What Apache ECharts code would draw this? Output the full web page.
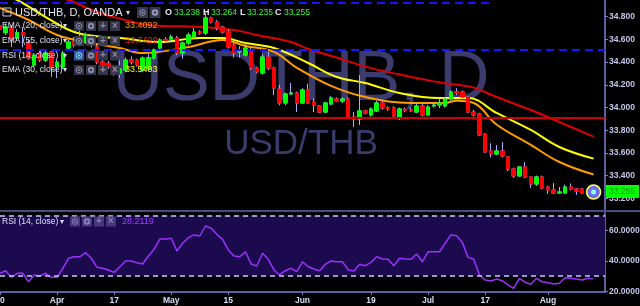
<!DOCTYPE html>
<html><head><meta charset="utf-8">
<script src="https://cdn.jsdelivr.net/npm/echarts@6/dist/echarts.min.js"></script>
<style>html,body{margin:0;padding:0;background:#000;}#c{width:640px;height:306px;}</style>
</head><body><div id="c"></div>
<script>
// ---- DATA ----
const categories = [
'03-20','03-21','03-22','03-23','03-24','03-27','03-28','03-29','03-30','03-31',
'04-03','04-04','04-05','04-06','04-07','04-10','04-11','04-12','04-13','04-14',
'04-17','04-18','04-19','04-20','04-21','04-24','04-25','04-26','04-27','04-28',
'05-01','05-02','05-03','05-04','05-05','05-08','05-09','05-10','05-11','05-12',
'05-15','05-16','05-17','05-18','05-19','05-22','05-23','05-24','05-25','05-26',
'05-29','05-30','05-31',
'06-01','06-02','06-05','06-06','06-07','06-08','06-09','06-12','06-13','06-14',
'06-15','06-16','06-19','06-20','06-21','06-22','06-23','06-26','06-27','06-28',
'06-29','06-30',
'07-03','07-04','07-05','07-06','07-07','07-10','07-11','07-12','07-13','07-14',
'07-17','07-18','07-19','07-20','07-21','07-24','07-25','07-26','07-27','07-28','07-31',
'08-01','08-02','08-03','08-04','08-07','08-08','08-09','08-10','08-11'];
const opens = [
34.72,34.66,34.70,34.61,34.66,34.568,34.374,34.48,34.418,34.489,
34.36,34.357,34.524,34.58,34.55,34.577,34.621,34.533,34.40,34.39,
34.357,34.30,34.33,34.42,34.418,34.33,34.34,34.436,34.524,34.60,
34.603,34.612,34.48,34.568,34.621,34.665,34.656,34.789,34.753,34.709,
34.674,34.551,34.49,34.462,34.507,34.348,34.304,34.445,34.348,34.163,
34.04,34.119,34.128,34.04,34.154,34.048,34.013,33.96,34.031,34.075,
34.057,34.075,33.917,33.899,33.97,33.934,33.97,34.04,33.996,33.996,
33.917,33.985,33.98,33.96,34.013,33.934,34.013,34.022,34.013,34.075,
34.137,34.137,34.092,33.96,33.943,33.767,33.617,33.59,33.617,33.564,
33.458,33.397,33.476,33.388,33.326,33.388,33.30,33.273,33.247,33.247,
33.30,33.282,33.282,33.247,33.238];
const closes = [
34.69,34.71,34.612,34.66,34.64,34.436,34.462,34.418,34.48,34.357,
34.40,34.48,34.577,34.55,34.60,34.639,34.551,34.40,34.374,34.357,
34.304,34.34,34.418,34.40,34.374,34.436,34.44,34.507,34.595,34.59,
34.621,34.48,34.568,34.639,34.665,34.656,34.789,34.753,34.70,34.665,
34.533,34.48,34.507,34.524,34.348,34.313,34.445,34.348,34.172,34.04,
34.119,34.128,34.04,34.154,34.04,34.022,33.96,34.04,34.084,34.057,
34.075,33.917,33.899,33.97,33.952,33.987,34.04,33.996,33.987,33.925,
33.987,33.975,33.97,34.013,33.934,34.004,34.022,34.04,34.075,34.137,
34.128,34.092,33.96,33.934,33.758,33.608,33.59,33.617,33.573,33.458,
33.397,33.476,33.388,33.326,33.388,33.291,33.273,33.247,33.256,33.30,
33.282,33.264,33.247,33.238,33.255];
const highs = [
34.75,34.74,34.727,34.69,34.71,34.60,34.48,34.50,34.50,34.50,
34.42,34.50,34.60,34.62,34.70,34.66,34.64,34.55,34.42,34.41,
34.37,34.445,34.44,34.45,34.43,34.45,34.47,34.52,34.61,34.62,
34.64,34.63,34.58,34.66,34.70,34.68,34.83,34.80,34.77,34.72,
34.69,34.57,34.54,34.57,34.53,34.36,34.47,34.49,34.36,34.20,
34.13,34.216,34.14,34.17,34.21,34.08,34.02,34.05,34.10,34.09,
34.09,34.09,33.96,34.286,33.98,34.00,34.06,34.06,34.01,34.01,
34.00,34.00,34.00,34.03,34.03,34.02,34.04,34.08,34.09,34.15,
34.17,34.15,34.10,33.98,33.95,33.77,33.685,33.67,33.695,33.57,
33.47,33.48,33.52,33.39,33.40,33.40,33.31,33.335,33.30,33.32,
33.33,33.29,33.29,33.26,33.264];
const lows = [
34.67,34.64,34.533,34.59,34.53,34.42,34.36,34.40,34.40,34.27,
34.26,34.34,34.50,34.53,34.54,34.56,34.53,34.38,34.35,34.34,
34.28,34.26,34.31,34.38,34.36,34.31,34.32,34.42,34.51,34.57,
34.58,34.46,34.43,34.55,34.61,34.64,34.64,34.74,34.68,34.65,
34.52,34.44,34.44,34.45,34.33,34.30,34.29,34.33,34.11,34.02,
34.02,34.11,33.96,34.03,34.03,33.96,33.95,33.95,34.02,34.05,
34.04,33.91,33.83,33.845,33.94,33.92,33.96,33.98,33.97,33.91,
33.89,33.96,33.96,33.95,33.92,33.93,34.00,33.995,34.00,34.06,
34.11,34.08,33.95,33.92,33.75,33.60,33.56,33.58,33.56,33.44,
33.38,33.39,33.38,33.29,33.31,33.28,33.238,33.24,33.24,33.24,
33.27,33.23,33.24,33.22,33.235];
const ema55 = [[8,35.0],[12,34.947],[17,34.841],[22,34.771],[26,34.727],[35,34.709],[41,34.683],[45,34.639],[51,34.577],[54,34.515],[59,34.44],[64,34.36],[70,34.29],[76,34.23],[80,34.20],[83,34.175],[87,34.092],[93,33.978],[98,33.872],[104,33.7429]];
const ema30 = [[0,35.0],[3,34.947],[8,34.797],[13,34.665],[18,34.621],[21,34.612],[28,34.577],[35,34.612],[39,34.612],[43,34.568],[48,34.524],[54,34.392],[59,34.269],[64,34.216],[70,34.128],[77,34.084],[82,34.084],[87,33.952],[93,33.802],[98,33.652],[104,33.5493]];
const ema20 = [[0,34.877],[5,34.771],[10,34.639],[16,34.568],[21,34.524],[25,34.48],[33,34.533],[39,34.595],[43,34.542],[48,34.49],[52,34.35],[58,34.19],[64,34.092],[72,34.04],[78,34.04],[80,34.06],[83,34.04],[87,33.85],[93,33.67],[98,33.52],[104,33.4092]];
const rsi = [
31.9,33.6,29.2,31.9,31.9,26.3,30.8,30.1,31.9,29.2,
29.2,35.2,41.8,42.8,42.8,45.5,41.8,35.8,35.2,34.1,
32.5,36.2,40.0,40.0,38.9,38.0,43.3,47.7,54.5,54.5,
55.0,46.6,51.7,55.4,57.2,56.5,63.1,61.6,57.6,54.3,
47.3,43.3,42.8,46.1,38.0,36.7,45.1,41.1,34.1,30.8,
33.6,35.2,33.0,39.5,36.2,34.7,33.6,37.8,40.0,39.5,
39.5,34.1,33.4,37.8,36.9,39.1,42.8,41.3,41.1,36.9,
41.8,41.3,41.1,44.6,39.5,46.1,46.1,46.1,51.7,57.2,
56.7,52.3,42.4,41.1,30.8,27.5,26.8,28.1,27.0,24.2,
22.0,28.6,26.0,24.6,28.6,26.3,25.7,24.8,25.3,29.0,
28.6,28.1,27.5,28.6,28.2];
const priceTicks = [33.2,33.4,33.6,33.8,34.0,34.2,34.4,34.6,34.8];
const rsiTicks = [20,40,60];
const xTickIdx = [0,10,20,30,40,53,65,75,85,96];
const xTickLabels = ['20','Apr','17','May','15','Jun','19','Jul','17','Aug'];
const hLineRed = 33.905, hLineBlue = 34.505, hLineBlueTop = 34.92;
const lastPrice = 33.255;
const ohlcText = {O:'33.238',H:'33.264',L:'33.235',C:'33.255'};
const emaLegend = {e20:'33.4092', e55:'33.7429', e30:'33.5493', rsi:'28.2119'};

// ---- CHART ----
const F = 'Liberation Sans, Arial, sans-serif';
const cats = categories.concat(['','']);
const candleFull = opens.map((o,i)=>[o, closes[i], lows[i], highs[i]]);
const candleBody = opens.map((o,i)=>[o, closes[i], Math.min(o,closes[i]), Math.max(o,closes[i])]);
const axisCol = '#7c7cd6', labCol = '#c4c4ec';

const g = [];
g.push({type:'text', x:301, y:81, z:-5, style:{text:'USDTHB, D', fill:'#3b3b6e', font:'70px '+F, align:'center', verticalAlign:'middle'}});
g.push({type:'text', x:301, y:144.5, z:-5, style:{text:'USD/THB', fill:'#3b3b6e', font:'35px '+F, align:'center', verticalAlign:'middle'}});
g.push({type:'rect', z:50, shape:{x:0,y:210,width:640,height:2}, style:{fill:'#4c4c7c'}});
function txt(x,y,t,col,fs,bold){g.push({type:'text', z:100, x:x, y:y, style:{text:t, fill:col, font:(bold?'bold ':'')+fs+'px '+F, align:'left', verticalAlign:'middle'}});}
function arrow(x,y){g.push({type:'text', z:100, x:x, y:y, style:{text:'\u25BE', fill:'#d8d8f0', font:'8px DejaVu Sans', align:'left', verticalAlign:'middle'}});}
function btn(x,y,kind,fill,ic,s){
  s = s||10;
  g.push({type:'rect', z:100, shape:{x:x,y:y-s/2,width:s,height:s}, style:{fill:fill, opacity:0.9}});
  const cx=x+s/2, cy=y;
  if(kind==='eye'){g.push({type:'circle', z:101, shape:{cx:cx,cy:cy,r:2.8}, style:{fill:'none', stroke:ic, lineWidth:1}});
    g.push({type:'circle', z:101, shape:{cx:cx,cy:cy,r:1.1}, style:{fill:ic}});}
  else if(kind==='gear'){g.push({type:'circle', z:101, shape:{cx:cx,cy:cy,r:3.2}, style:{fill:ic}});
    g.push({type:'circle', z:101, shape:{cx:cx,cy:cy,r:1.3}, style:{fill:fill}});}
  else { g.push({type:'text', z:101, x:cx, y:cy, style:{text: kind==='plus'?'+':'\u00D7', fill:ic, font:'bold 10px '+F, align:'center', verticalAlign:'middle'}}); }
}
// header row
g.push({type:'rect', z:100, shape:{x:3,y:8,width:8,height:8}, style:{fill:'none', stroke:'#c8c8e8', lineWidth:1}});
g.push({type:'rect', z:100, shape:{x:4.5,y:11.5,width:5,height:1}, style:{fill:'#c8c8e8'}});
txt(15,12.5,'USD/THB, D, OANDA','#e6e6f6',11,false);
arrow(126,12.5);
btn(137,12.5,'eye','#3c3c58','#9a9ab8',11); btn(149.5,12.5,'gear','#3c3c58','#9a9ab8',11);
txt(165,12.5,'O','#e6e6f6',9,true); txt(174,12.5,ohlcText.O,'#2cff2c',8.5,false);
txt(203,12.5,'H','#e6e6f6',9,true); txt(211,12.5,ohlcText.H,'#2cff2c',8.5,false);
txt(240,12.5,'L','#e6e6f6',9,true); txt(247,12.5,ohlcText.L,'#2cff2c',8.5,false);
txt(275,12.5,'C','#e6e6f6',9,true); txt(284,12.5,ohlcText.C,'#2cff2c',8.5,false);
function row(y,label,val,col,first,boxFill){
  txt(2,y,label,'#e0e0f2',8.5,false); arrow(63,y);
  const kinds=['eye','gear','plus','x'];
  kinds.forEach((k,j)=>{ const hl = (j===0 && first); btn(74+j*12,y,k, hl?'#2f64ae':boxFill, hl?'#8fe0ff':'#8c8caa'); });
  if(val) txt(125,y,val,col,9,false);
}
row(26,'EMA (20, close)',emaLegend.e20,'#ff9c00',false,'#3a3a50');
row(41,'EMA (55, close)',emaLegend.e55,'#ff1a1a',false,'#3a3a50');
row(55.5,'RSI (14, close)',null,null,true,'#3a3a50');
row(70,'EMA (30, close)',emaLegend.e30,'#ffff1a',false,'#3a3a50');
// RSI legend
txt(2,221.5,'RSI (14, close)','#e0e0f2',8.5,false); arrow(60,221.5);
['eye','gear','plus','x'].forEach((k,j)=>btn(70+j*12,221.5,k,'#4d3d82','#8c80b8'));
txt(122,221.5,emaLegend.rsi,'#a040ff',9,false);

const chart = echarts.init(document.getElementById('c'), null, {renderer:'canvas'});
chart.setOption({
  animation:false,
  backgroundColor:'#000000',
  grid:[{left:0,right:35,top:0,height:210,outerBoundsMode:'none',containLabel:false},
        {left:0,right:35,top:212,height:80,outerBoundsMode:'none',containLabel:false}],
  xAxis:[
    {type:'category', gridIndex:0, data:cats, boundaryGap:false, axisLine:{show:false}, axisTick:{show:false}, axisLabel:{show:false}, splitLine:{show:false}},
    {type:'category', gridIndex:1, data:cats, boundaryGap:false,
     axisLine:{show:true, lineStyle:{color:axisCol, width:1.5}},
     axisTick:{show:true, length:3, interval:(i)=>xTickIdx.indexOf(i)>=0, lineStyle:{color:axisCol}},
     axisLabel:{show:true, interval:(i)=>xTickIdx.indexOf(i)>=0, formatter:(v,i)=>{const k=xTickIdx.indexOf(i);return k>=0?xTickLabels[k]:'';}, color:'#dcdcf4', fontSize:8.5, fontWeight:'bold', fontFamily:F, margin:4},
     splitLine:{show:false}}
  ],
  yAxis:[
    {type:'value', gridIndex:0, position:'right', min:33.097, max:34.947, scale:true,
     axisLine:{show:true, lineStyle:{color:axisCol, width:1.5}},
     axisTick:{show:true, length:3, customValues:priceTicks, lineStyle:{color:axisCol}},
     axisLabel:{show:true, customValues:priceTicks, formatter:(v)=>v.toFixed(3), color:labCol, fontSize:8.5, fontWeight:'bold', fontFamily:F, margin:4},
     splitLine:{show:false}},
    {type:'value', gridIndex:1, position:'right', min:19.54, max:72.34,
     axisLine:{show:true, lineStyle:{color:axisCol, width:1.5}},
     axisTick:{show:true, length:3, customValues:rsiTicks, lineStyle:{color:axisCol}},
     axisLabel:{show:true, customValues:rsiTicks, formatter:(v)=>v.toFixed(4), color:labCol, fontSize:8.5, fontWeight:'bold', fontFamily:F, margin:4},
     splitLine:{show:false}}
  ],
  graphic:{elements:g},
  series:[
    {type:'line', name:'EMA55', xAxisIndex:0, yAxisIndex:0, data:ema55, smooth:0.4, showSymbol:false, lineStyle:{color:'#dd0000', width:2}, z:2},
    {type:'line', name:'EMA30', xAxisIndex:0, yAxisIndex:0, data:ema30, smooth:0.4, showSymbol:false, lineStyle:{color:'#ffff00', width:2}, z:2},
    {type:'line', name:'EMA20', xAxisIndex:0, yAxisIndex:0, data:ema20, smooth:0.4, showSymbol:false, lineStyle:{color:'#ff9c00', width:2}, z:2},
    {type:'candlestick', name:'wick', xAxisIndex:0, yAxisIndex:0, data:candleFull, barWidth:4, z:3,
     itemStyle:{color:'#00ff00', color0:'#ff0000', borderColor:'#a8acff', borderColor0:'#a8acff', borderWidth:1},
     markLine:{silent:true, symbol:['none','none'], label:{show:false}, data:[
       {yAxis:hLineRed, lineStyle:{color:'#d00000', width:2, type:'solid'}},
       {yAxis:hLineBlue, lineStyle:{color:'#1414ff', width:2, type:[8,5]}},
       [{coord:[0,hLineBlueTop]},{coord:[86,hLineBlueTop], lineStyle:{color:'#1414ff', width:2, type:[8,5]}}]
     ]}},
    {type:'candlestick', name:'body', xAxisIndex:0, yAxisIndex:0, data:candleBody, barWidth:4, z:4,
     itemStyle:{color:'#00ff00', color0:'#ff0000', borderColor:'#00ff00', borderColor0:'#ff0000', borderWidth:1},
     markLine:{silent:true, symbol:['none','none'], data:[
       {yAxis:lastPrice, lineStyle:{color:'rgba(0,0,0,0)', width:0}, label:{show:true, position:'end', distance:1, formatter:lastPrice.toFixed(3), backgroundColor:'#00ff00', color:'#009a00', padding:[2,4,2,3], fontSize:8.5, fontFamily:F}}
     ]},
     markPoint:{silent:true, data:[
       {coord:[104,lastPrice], symbol:'circle', symbolSize:14, itemStyle:{color:'#6c6ce8', borderColor:'#ffff66', borderWidth:1.5}, label:{show:false}},
       {coord:[104,lastPrice], symbol:'circle', symbolSize:5, itemStyle:{color:'#90ffff'}, label:{show:false}}
     ]}},
    {type:'line', name:'RSI', xAxisIndex:1, yAxisIndex:1, data:rsi, showSymbol:false, lineStyle:{color:'#9b30ff', width:1.5}, z:3,
     markArea:{silent:true, itemStyle:{color:'#1c0a4e'}, data:[[{yAxis:30},{yAxis:70}]]},
     markLine:{silent:true, symbol:['none','none'], label:{show:false}, lineStyle:{color:'#c8c8f4', width:1.5, type:[5,4]}, data:[{yAxis:70},{yAxis:30}]}}
  ]
});
</script></body></html>
